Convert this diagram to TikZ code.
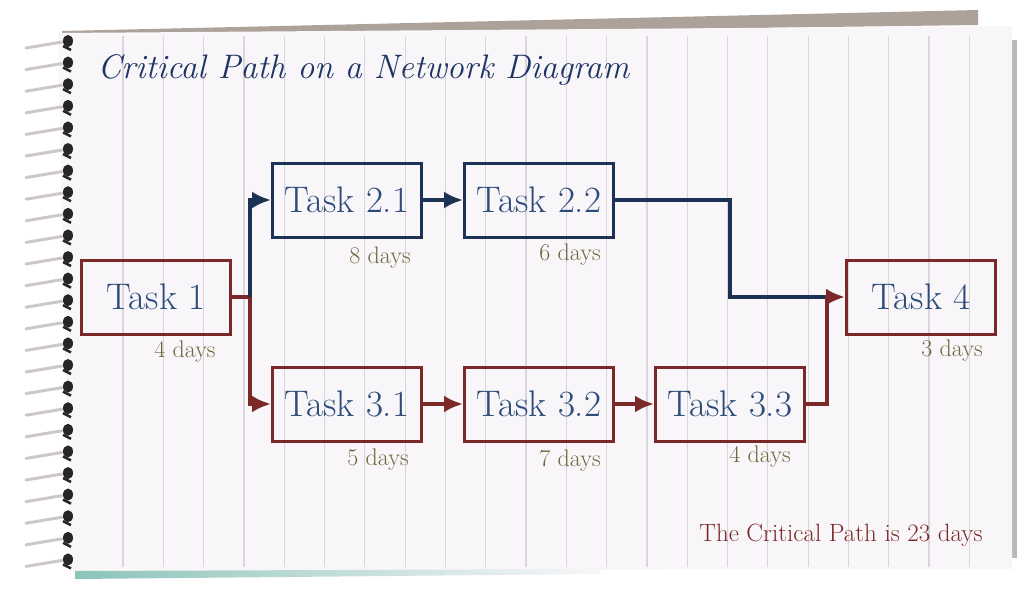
\documentclass[tikz,border=0pt]{standalone}
\usetikzlibrary{arrows.meta}
\definecolor{taskred}{RGB}{122,40,40}
\definecolor{tasknavy}{RGB}{28,50,84}
\definecolor{titlenavy}{RGB}{30,52,100}
\definecolor{textblue}{RGB}{44,74,122}
\definecolor{daysolive}{RGB}{108,104,60}
\definecolor{paper}{RGB}{248,246,249}
\definecolor{ruling}{RGB}{218,213,219}
\definecolor{sheetgrey}{RGB}{172,162,154}
\definecolor{edgeteal}{RGB}{140,196,186}
\definecolor{wiregrey}{RGB}{205,200,198}

\tikzset{
  taskbox/.style={draw=#1, line width=3pt, minimum width=149pt, minimum height=74pt,
    inner sep=0pt, text=textblue, font=\fontsize{37}{39}\selectfont},
  dayslabel/.style={text=daysolive, inner sep=0pt, font=\fontsize{24}{26}\selectfont},
  link/.style={draw=#1, line width=4pt, -{Latex[length=19pt,width=17pt]}},
}

\begin{document}
\begin{tikzpicture}[x=1pt,y=-1pt]
\useasboundingbox (0,0) rectangle (1024,597);

 %sheets behind the page
 \fill[sheetgrey] (62,31) -- (978,10) -- (978,25) -- (62,37) -- cycle;
 \fill[gray!55] (1006,40) rectangle (1017,558);

 %page
 \fill[paper] (58,33) -- (1012,26) -- (1012,569) -- (70,571) -- cycle;
 \shade[left color=edgeteal, right color=paper] (75,571) -- (600,569) -- (600,574) -- (75,579) -- cycle;

 %ruling
 \foreach \k in {0,...,21}
   \draw[ruling, line width=1.2pt] ({123+40.3*\k},36) -- ({123+40.3*\k},567);

 %spiral
 \foreach \k in {0,...,24}{
   \draw[wiregrey, line width=3pt, line cap=round] (26,{48+21.6*\k}) -- (62,{42+21.6*\k});
   \fill[black!85] (68,{41+21.6*\k}) ellipse (5 and 6);
   \draw[black!85, line width=2.5pt] (63,{46+21.6*\k}) -- (71,{50+21.6*\k});
 }

 %title
 \node[anchor=west, text=titlenavy, font=\fontsize{34}{36}\selectfont\itshape] (title) at (94,70)
   {Critical Path on a Network Diagram};

 %tasks
 \node[taskbox=taskred] (t1) at (156,297) {Task 1};
 \node[taskbox=tasknavy] (t21) at (347,200) {Task 2.1};
 \node[taskbox=tasknavy] (t22) at (539,200) {Task 2.2};
 \node[taskbox=taskred] (t31) at (347,404) {Task 3.1};
 \node[taskbox=taskred] (t32) at (539,404) {Task 3.2};
 \node[taskbox=taskred] (t33) at (730,404) {Task 3.3};
 \node[taskbox=taskred] (t4) at (921,297) {Task 4};

 %durations
 \node[dayslabel] (d1) at (185,352) {4 days};
 \node[dayslabel] (d21) at (380,258) {8 days};
 \node[dayslabel] (d22) at (570,255) {6 days};
 \node[dayslabel] (d31) at (378,460) {5 days};
 \node[dayslabel] (d32) at (570,461) {7 days};
 \node[dayslabel] (d33) at (760,457) {4 days};
 \node[dayslabel] (d4) at (952,351) {3 days};

 \node[anchor=east, text=taskred, font=\fontsize{25}{27}\selectfont] (total) at (986,535)
   {The Critical Path is 23 days};

 %connectors
 \coordinate (split) at (250,297);
 \coordinate (bend) at (730,297);
 \coordinate (join) at (827,297);

 \draw[link=taskred] (t1.east) -- (split) |- (t31.west);
 \draw[link=tasknavy] (split) |- (t21.west);
 \draw[link=tasknavy] (t21) -- (t22);
 \draw[link=taskred] (t31) -- (t32);
 \draw[link=taskred] (t32) -- (t33);
 \draw[tasknavy, line width=4pt] (t22.east) -| (bend) -- (join);
 \draw[link=taskred] (t33.east) -| (join) -- (t4.west);

\end{tikzpicture}
\end{document}
